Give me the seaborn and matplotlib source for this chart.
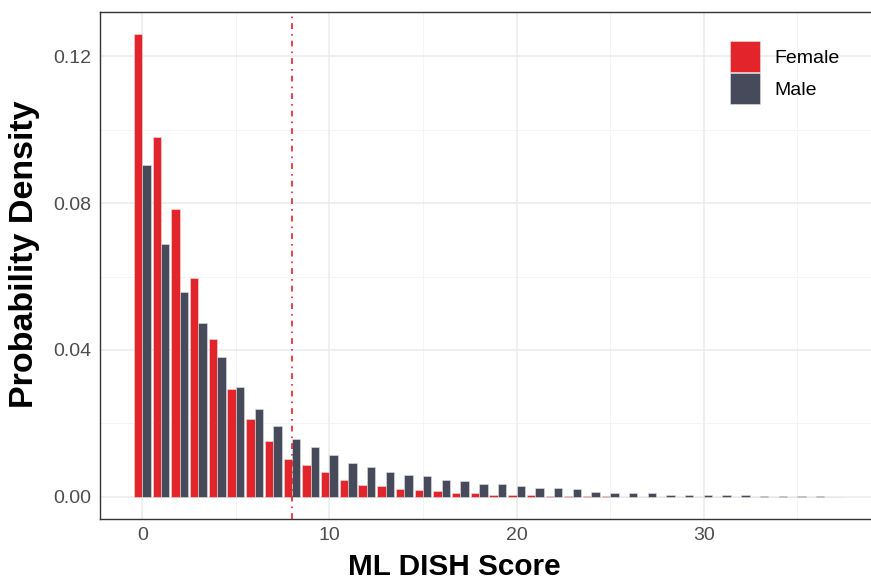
"""
ML DISH score: probability density by sex (dodged bars, ggplot-like look)
"""

import numpy as np
import pandas as pd
import matplotlib
matplotlib.use("Agg")
import matplotlib.pyplot as plt
from matplotlib.patches import Patch
import seaborn as sns

# Datos
scores = list(range(38))
female = [0.1259, 0.0981, 0.0784, 0.0595, 0.0430, 0.0294, 0.0211, 0.0153,
          0.0103, 0.0086, 0.0068, 0.0046, 0.0033, 0.0031, 0.0022, 0.0018,
          0.0017, 0.0011, 0.0010, 0.0006, 0.0006, 0.0004, 0.0003, 0.0003,
          0.0002, 0.0002, 0.0001, 0.0001, 0.0001, 0.0001, 0.00008, 0.00005,
          0.00005, 0.00004, 0.00003, 0.00003, 0.00002, 0.00002]
male = [0.0904, 0.0688, 0.0559, 0.0473, 0.0380, 0.0300, 0.0239, 0.0194,
        0.0159, 0.0136, 0.0114, 0.0092, 0.0081, 0.0069, 0.0061, 0.0056,
        0.0045, 0.0043, 0.0035, 0.0035, 0.0029, 0.0025, 0.0025, 0.0021,
        0.0014, 0.0010, 0.0010, 0.0010, 0.0005, 0.0004, 0.0005, 0.0004,
        0.0004, 0.0003, 0.0002, 0.0003, 0.0002, 0.0001]
groups = ["Female", "Male"]
colores = {"Female": "#E3242B", "Male": "#474A5B"}
umbral = 8

x_ticks = [0, 10, 20, 30]
y_ticks = [0.00, 0.04, 0.08, 0.12]

df = pd.DataFrame({
    "score": scores + scores,
    "density": female + male,
    "sex": ["Female"] * len(scores) + ["Male"] * len(scores),
})

sns.set_style("white")
plt.rcParams["font.family"] = ["Liberation Sans", "DejaVu Sans"]
plt.rcParams["text.color"] = "black"
plt.rcParams["axes.labelcolor"] = "black"

fig = plt.figure(figsize=(8.71, 5.82), dpi=100)
ax = fig.add_axes([100 / 871, 63 / 582, 780 / 871, 507 / 582])

sns.barplot(data=df, x="score", y="density", hue="sex", hue_order=groups,
            palette=colores, saturation=1, native_scale=True, width=0.9,
            dodge=True, errorbar=None, edgecolor="#e2e2e2", linewidth=0.4,
            legend=False, ax=ax, zorder=3)

ax.axvline(umbral, color="#E3242B", lw=1.2, linestyle=(0, (3.5, 3, 1, 3)),
           zorder=4)

ax.set_xlim(-2.26, 39.42)
ax.set_ylim(-0.006, 0.132)
ax.set_xticks(x_ticks)
ax.set_xticklabels([str(t) for t in x_ticks])
ax.set_yticks(y_ticks)
ax.set_yticklabels([f"{t:.2f}" for t in y_ticks])
ax.set_xticks([5, 15, 25, 35], minor=True)
ax.set_yticks([0.02, 0.06, 0.10], minor=True)

ax.grid(which="major", color="#EBEBEB", lw=1.1, zorder=0)
ax.grid(which="minor", color="#F2F2F2", lw=0.6, zorder=0)
ax.set_axisbelow(True)

for s in ax.spines.values():
    s.set_color("#333333")
    s.set_linewidth(1.0)

ax.tick_params(which="major", length=3.6, width=0.9, color="#333333",
               labelsize=14, labelcolor="#4D4D4D", pad=2.5)
ax.tick_params(which="minor", length=0)

ax.set_xlabel("ML DISH Score", fontsize=21.4, fontweight="bold",
              va="baseline", ha="center", color="black")
ax.xaxis.set_label_coords(454 / 871, 1 - 575 / 582, transform=fig.transFigure)
ax.set_ylabel("Probability Density", fontsize=24.5, fontweight="bold",
              va="center", ha="center", color="black")
ax.yaxis.set_label_coords(25 / 871, 1 - 254 / 582, transform=fig.transFigure)

handles = [Patch(facecolor=colores[g], edgecolor="#e2e2e2", lw=0.4) for g in groups]
ax.legend(handles, groups, loc="upper left",
          bbox_to_anchor=(730 / 871, 1 - 41 / 582), bbox_transform=fig.transFigure,
          frameon=False, fontsize=14, handlelength=1.55, handleheight=2.08,
          labelspacing=0.05, handletextpad=0.75, borderpad=0, borderaxespad=0)

fig.savefig("out.png", dpi=100)
